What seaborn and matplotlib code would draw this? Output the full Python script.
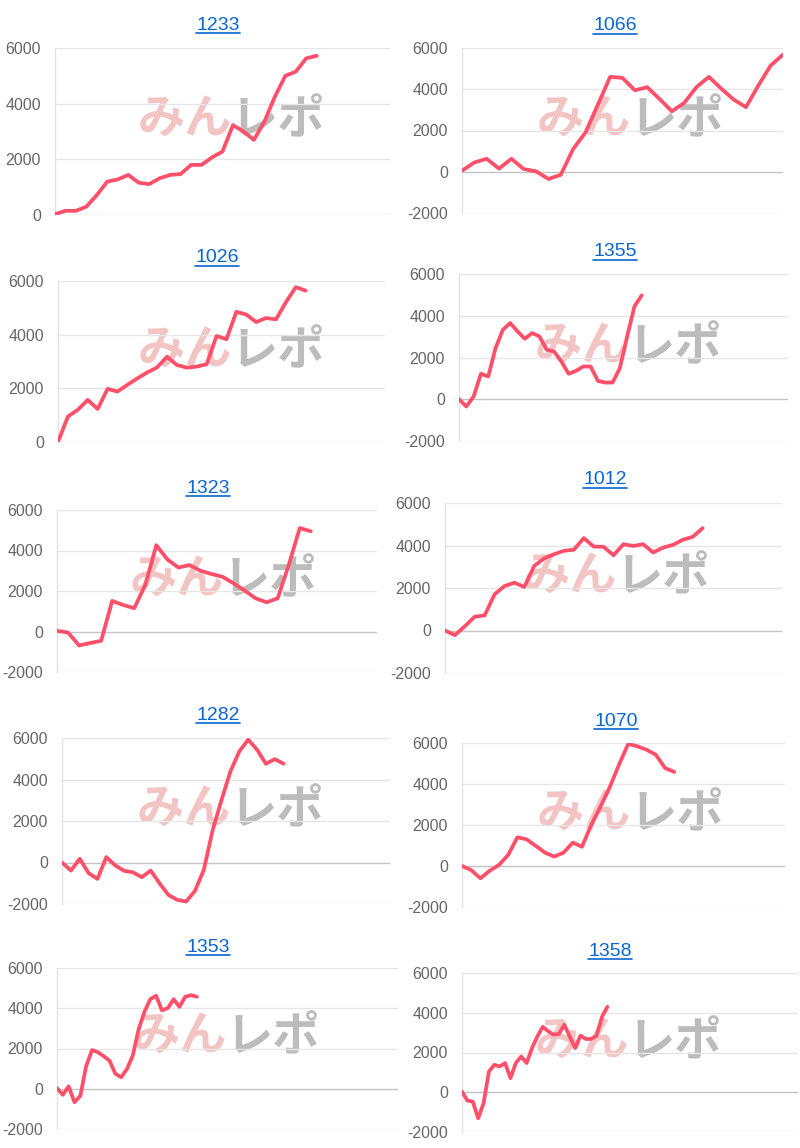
import numpy as np
import pandas as pd
import matplotlib
matplotlib.use("Agg")
import matplotlib.pyplot as plt
from matplotlib.lines import Line2D
from matplotlib.transforms import IdentityTransform
import seaborn as sns

# ---------------- data ----------------
titles = ["1233", "1066", "1026", "1355", "1323", "1012", "1282", "1070", "1353", "1358"]

s1233 = [30, 150, 150, 300, 720, 1200, 1280, 1440, 1160, 1110, 1320, 1440, 1470, 1800, 1800,
         2070, 2280, 3230, 3000, 2700, 3350, 4250, 5000, 5150, 5630, 5720]
s1066 = [50, 450, 630, 150, 630, 130, 20, -350, -150, 1100, 1900, 3250, 4600, 4550, 3950,
         4100, 3530, 2930, 3340, 4110, 4600, 4030, 3500, 3130, 4180, 5150, 5680]
s1026 = [0, 950, 1200, 1570, 1230, 1980, 1880, 2130, 2370, 2590, 2780, 3180, 2870, 2770, 2810,
         2900, 3950, 3830, 4850, 4750, 4470, 4620, 4570, 5210, 5770, 5640]
s1355 = [0, -350, 130, 1220, 1090, 2450, 3330, 3650, 3250, 2900, 3170, 3010, 2370, 2290, 1810,
         1220, 1360, 1570, 1570, 880, 800, 800, 1490, 3010, 4450, 4980]
s1323 = [30, -50, -690, -570, -460, 1510, 1310, 1150, 2300, 4260, 3560, 3160, 3280, 3000, 2840,
         2700, 2380, 2020, 1640, 1440, 1640, 3280, 5110, 4950]
s1012 = [0, -220, 200, 650, 710, 1700, 2090, 2250, 2050, 3040, 3390, 3590, 3750, 3800, 4350,
         3950, 3940, 3540, 4060, 3980, 4060, 3670, 3900, 4030, 4270, 4410, 4820]
s1282 = [0, -390, 180, -510, -790, 260, -140, -400, -470, -710, -390, -1000, -1560, -1800, -1880,
         -1370, -350, 1570, 3020, 4390, 5350, 5920, 5440, 4760, 4980, 4760]
s1070 = [0, -200, -600, -230, 50, 540, 1400, 1300, 980, 650, 460, 650, 1140, 940, 2000,
         2890, 3840, 4930, 5950, 5840, 5670, 5430, 4780, 4590]
s1353 = [30, -300, 120, -670, -350, 1120, 1920, 1820, 1620, 1400, 750, 570, 980, 1650, 2950,
         3820, 4450, 4620, 3900, 4000, 4450, 4070, 4570, 4650, 4570]
s1358 = [30, -420, -470, -1310, -560, 1040, 1380, 1300, 1470, 710, 1470, 1800, 1470, 2220, 2810,
         3290, 3070, 2900, 2930, 3400, 2810, 2220, 2850, 2680, 2680, 2850, 3790, 4300]

series = [s1233, s1066, s1026, s1355, s1323, s1012, s1282, s1070, s1353, s1358]
# length of each chart's label axis (number of label slots - 1)
label_spans = [32, 26, 33, 45, 29, 34, 37, 35, 58.5, 62.4]
y_lows = [0, -2000, 0, -2000, -2000, -2000, -2000, -2000, -2000, -2000]
y_ticks_all = [0, 2000, 4000, 6000]
y_ticks_neg = [-2000, 0, 2000, 4000, 6000]

# ---------------- layout (pixels) ----------------
W, H = 800, 1148
# left, right, top, bottom of plot areas
boxes = [(55, 390, 48, 215), (462, 783, 48, 213),
         (58, 385, 281, 442), (459, 788, 274, 441),
         (57, 377, 510, 672), (445, 782, 503, 673),
         (62, 390, 738, 904), (462, 785, 743, 907),
         (57, 398, 968, 1129), (462, 798, 973, 1132)]
title_pos = [(218, 25), (615, 26), (217, 258), (615, 252), (208, 488),
             (605, 480), (218, 715), (616, 721), (208, 947), (610, 951)]
wm_pos = [(138, 120), (537, 120), (138, 351), (535, 347), (130, 580),
          (523, 577), (137, 810), (537, 814), (133, 1037), (535, 1042)]

sns.set_style("white")
plt.rcParams['font.family'] = ['Liberation Sans', 'DejaVu Sans']
plt.rcParams['axes.unicode_minus'] = False

LINE = "#ff4f69"
fig = plt.figure(figsize=(W / 100, H / 100), dpi=100)

title_artists = []
for i in range(10):
    l, r, t, b = boxes[i]
    ax = fig.add_axes([l / W, 1 - b / H, (r - l) / W, (b - t) / H])
    ax.set_facecolor("none")
    df = pd.DataFrame({"x": np.arange(len(series[i])), "y": series[i]})
    sns.lineplot(data=df, x="x", y="y", ax=ax, color=LINE, linewidth=2.7,
                 zorder=5)
    ax.set_xlim(0, label_spans[i])
    ax.set_ylim(y_lows[i], 6000)
    ticks = y_ticks_all if y_lows[i] == 0 else y_ticks_neg
    ax.set_yticks(ticks)
    ax.set_yticklabels([str(v) for v in ticks])
    ax.set_xticks([])
    ax.set_xlabel("")
    ax.set_ylabel("")
    for v in ticks:
        ax.axhline(v, color="#c4c4c4" if v == 0 else "#e6e6e6",
                   linewidth=1.0, zorder=1)
    for s in ["top", "right", "bottom"]:
        ax.spines[s].set_visible(False)
    ax.spines["left"].set_color("#e2e2e2")
    ax.spines["left"].set_linewidth(1.0)
    ax.tick_params(axis="y", length=0, pad=10, labelsize=11.5, labelcolor="#666666")

    tx, ty = title_pos[i]
    ta = fig.text(tx / W, 1 - ty / H, titles[i], ha="center", va="center",
                  fontsize=14, color="#0a66d0")
    title_artists.append(ta)

    wx, wy = wm_pos[i]
    fig.text(wx / W, 1 - wy / H, "みん", ha="left", va="center",
             fontsize=34, fontweight="bold", color="#e89494", alpha=0.55,
             family=["Noto Sans CJK JP", "DejaVu Sans"], zorder=-1)
    fig.text((wx + 93) / W, 1 - wy / H, "レポ", ha="left", va="center",
             fontsize=34, fontweight="bold", color="#a0a0a0", alpha=0.7,
             family=["Noto Sans CJK JP", "DejaVu Sans"], zorder=-1)

fig.canvas.draw()
renderer = fig.canvas.get_renderer()
for ta in title_artists:
    bb = ta.get_window_extent(renderer)
    fig.add_artist(Line2D([bb.x0, bb.x1], [bb.y0 + 1, bb.y0 + 1],
                          transform=IdentityTransform(), color="#0a66d0", linewidth=1.2))

fig.savefig("out.png", dpi=100)
